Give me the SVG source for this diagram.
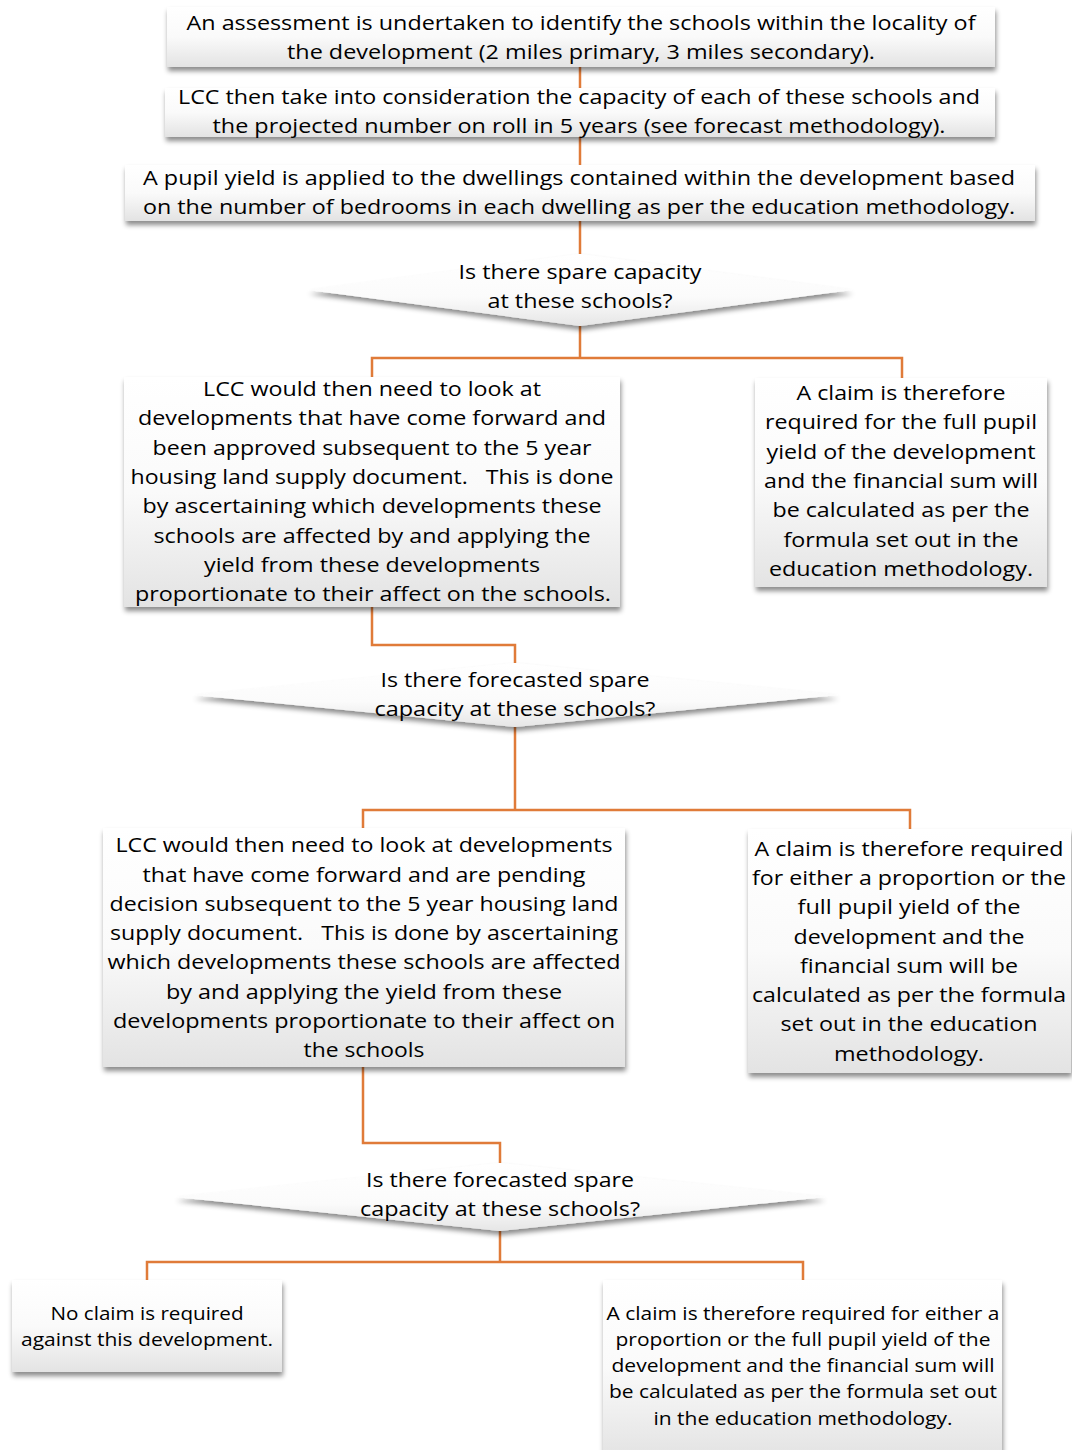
<svg xmlns="http://www.w3.org/2000/svg" width="1072" height="1450" viewBox="0 0 1072 1450">
<style>
  .conn { fill: none; stroke: #E07B39; stroke-width: 2.5; }
  .box { fill: url(#boxGrad); filter: url(#shadow); }
  .dia { fill: url(#diaGrad); filter: url(#shadow); }
  text { font-family: "Open Sans", "Noto Sans", sans-serif; font-size: 20.5px; fill: #000; text-anchor: middle; white-space: pre; }
  .sm { font-size: 18.5px; }
</style>
<defs>
  <linearGradient id="boxGrad" x1="0" y1="0" x2="0" y2="1">
    <stop offset="0" stop-color="#ffffff"/>
    <stop offset="0.5" stop-color="#fafafa"/>
    <stop offset="1" stop-color="#e3e3e3"/>
  </linearGradient>
  <linearGradient id="diaGrad" x1="0" y1="0" x2="0" y2="1">
    <stop offset="0" stop-color="#ffffff"/>
    <stop offset="0.6" stop-color="#fbfbfb"/>
    <stop offset="1" stop-color="#e6e6e6"/>
  </linearGradient>
  <filter id="shadow" x="-10%" y="-20%" width="120%" height="150%">
    <feDropShadow dx="1" dy="4" stdDeviation="2.5" flood-color="#000" flood-opacity="0.45"/>
  </filter>
</defs>
<rect width="1072" height="1450" fill="#ffffff"/>

<g id="connectors">
  <path class="conn" d="M580 67 V88"/>
  <path class="conn" d="M580 137 V165"/>
  <path class="conn" d="M580 221 V254"/>
  <path class="conn" d="M580 326 V358 M372 377 V358 H902 V378"/>
  <path class="conn" d="M372 607 V645 H515 V663"/>
  <path class="conn" d="M515 727 V810 M363 828 V810 H910 V829"/>
  <path class="conn" d="M363 1067 V1143 H500 V1163"/>
  <path class="conn" d="M500 1231 V1262 M147 1280 V1262 H803 V1280"/>
</g>

<g id="n1">
  <rect class="box" x="167" y="7" width="828" height="60"/>
  <text x="581" y="30" textLength="789" lengthAdjust="spacingAndGlyphs">An assessment is undertaken to identify the schools within the locality of</text>
  <text x="581" y="59" textLength="588" lengthAdjust="spacingAndGlyphs">the development (2 miles primary, 3 miles secondary).</text>
</g>

<g id="n2">
  <rect class="box" x="165" y="88" width="830" height="49"/>
  <text x="579" y="104" textLength="802" lengthAdjust="spacingAndGlyphs">LCC then take into consideration the capacity of each of these schools and</text>
  <text x="579" y="133" textLength="733" lengthAdjust="spacingAndGlyphs">the projected number on roll in 5 years (see forecast methodology).</text>
</g>

<g id="n3">
  <rect class="box" x="125" y="165" width="910" height="56"/>
  <text x="579" y="185" textLength="872" lengthAdjust="spacingAndGlyphs">A pupil yield is applied to the dwellings contained within the development based</text>
  <text x="579" y="214" textLength="872" lengthAdjust="spacingAndGlyphs">on the number of bedrooms in each dwelling as per the education methodology.</text>
</g>

<g id="d1">
  <polygon class="dia" points="580,254 852,290 580,326 308,290"/>
  <text x="580" y="279" textLength="243" lengthAdjust="spacingAndGlyphs">Is there spare capacity</text>
  <text x="580" y="308" textLength="185" lengthAdjust="spacingAndGlyphs">at these schools?</text>
</g>

<g id="n4">
  <rect class="box" x="124" y="377" width="496" height="230"/>
  <text x="372" y="396" textLength="338" lengthAdjust="spacingAndGlyphs">LCC would then need to look at</text>
  <text x="372" y="425" textLength="468" lengthAdjust="spacingAndGlyphs">developments that have come forward and</text>
  <text x="372" y="455" textLength="439" lengthAdjust="spacingAndGlyphs">been approved subsequent to the 5 year</text>
  <text x="372" y="484" textLength="483" lengthAdjust="spacingAndGlyphs" xml:space="preserve">housing land supply document.   This is done</text>
  <text x="372" y="513" textLength="459" lengthAdjust="spacingAndGlyphs">by ascertaining which developments these</text>
  <text x="372" y="543" textLength="437" lengthAdjust="spacingAndGlyphs">schools are affected by and applying the</text>
  <text x="372" y="572" textLength="336" lengthAdjust="spacingAndGlyphs">yield from these developments</text>
  <text x="373" y="601" textLength="476" lengthAdjust="spacingAndGlyphs">proportionate to their affect on the schools.</text>
</g>

<g id="n5">
  <rect class="box" x="755" y="378" width="292" height="209"/>
  <text x="901" y="400" textLength="209" lengthAdjust="spacingAndGlyphs">A claim is therefore</text>
  <text x="901" y="429" textLength="272" lengthAdjust="spacingAndGlyphs">required for the full pupil</text>
  <text x="901" y="459" textLength="269" lengthAdjust="spacingAndGlyphs">yield of the development</text>
  <text x="901" y="488" textLength="274" lengthAdjust="spacingAndGlyphs">and the financial sum will</text>
  <text x="901" y="517" textLength="257" lengthAdjust="spacingAndGlyphs">be calculated as per the</text>
  <text x="901" y="547" textLength="235" lengthAdjust="spacingAndGlyphs">formula set out in the</text>
  <text x="901" y="576" textLength="264" lengthAdjust="spacingAndGlyphs">education methodology.</text>
</g>

<g id="d2">
  <polygon class="dia" points="515,663 838,695 515,727 193,695"/>
  <text x="515" y="687" textLength="269" lengthAdjust="spacingAndGlyphs">Is there forecasted spare</text>
  <text x="515" y="716" textLength="281" lengthAdjust="spacingAndGlyphs">capacity at these schools?</text>
</g>

<g id="n6">
  <rect class="box" x="103" y="828" width="522" height="239"/>
  <text x="364" y="852" textLength="497" lengthAdjust="spacingAndGlyphs">LCC would then need to look at developments</text>
  <text x="364" y="882" textLength="443" lengthAdjust="spacingAndGlyphs">that have come forward and are pending</text>
  <text x="364" y="911" textLength="509" lengthAdjust="spacingAndGlyphs">decision subsequent to the 5 year housing land</text>
  <text x="364" y="940" textLength="508" lengthAdjust="spacingAndGlyphs" xml:space="preserve">supply document.   This is done by ascertaining</text>
  <text x="364" y="969" textLength="513" lengthAdjust="spacingAndGlyphs">which developments these schools are affected</text>
  <text x="364" y="999" textLength="396" lengthAdjust="spacingAndGlyphs">by and applying the yield from these</text>
  <text x="364" y="1028" textLength="502" lengthAdjust="spacingAndGlyphs">developments proportionate to their affect on</text>
  <text x="364" y="1057" textLength="121" lengthAdjust="spacingAndGlyphs">the schools</text>
</g>

<g id="n7">
  <rect class="box" x="748" y="829" width="323" height="244"/>
  <text x="909" y="856" textLength="309" lengthAdjust="spacingAndGlyphs">A claim is therefore required</text>
  <text x="909" y="885" textLength="314" lengthAdjust="spacingAndGlyphs">for either a proportion or the</text>
  <text x="909" y="914" textLength="223" lengthAdjust="spacingAndGlyphs">full pupil yield of the</text>
  <text x="909" y="944" textLength="231" lengthAdjust="spacingAndGlyphs">development and the</text>
  <text x="909" y="973" textLength="218" lengthAdjust="spacingAndGlyphs">financial sum will be</text>
  <text x="909" y="1002" textLength="314" lengthAdjust="spacingAndGlyphs">calculated as per the formula</text>
  <text x="909" y="1031" textLength="257" lengthAdjust="spacingAndGlyphs">set out in the education</text>
  <text x="909" y="1061" textLength="150" lengthAdjust="spacingAndGlyphs">methodology.</text>
</g>

<g id="d3">
  <polygon class="dia" points="500,1163 825,1197 500,1231 175,1197"/>
  <text x="500" y="1187" textLength="268" lengthAdjust="spacingAndGlyphs">Is there forecasted spare</text>
  <text x="500" y="1216" textLength="280" lengthAdjust="spacingAndGlyphs">capacity at these schools?</text>
</g>

<g id="n8">
  <rect class="box" x="12" y="1280" width="270" height="92"/>
  <text class="sm" x="147" y="1320" textLength="193" lengthAdjust="spacingAndGlyphs">No claim is required</text>
  <text class="sm" x="147" y="1346" textLength="252" lengthAdjust="spacingAndGlyphs">against this development.</text>
</g>

<g id="n9">
  <rect class="box" x="603" y="1280" width="399" height="178"/>
  <text class="sm" x="803" y="1320" textLength="393" lengthAdjust="spacingAndGlyphs">A claim is therefore required for either a</text>
  <text class="sm" x="803" y="1346" textLength="375" lengthAdjust="spacingAndGlyphs">proportion or the full pupil yield of the</text>
  <text class="sm" x="803" y="1372" textLength="383" lengthAdjust="spacingAndGlyphs">development and the financial sum will</text>
  <text class="sm" x="803" y="1398" textLength="388" lengthAdjust="spacingAndGlyphs">be calculated as per the formula set out</text>
  <text class="sm" x="803" y="1425" textLength="299" lengthAdjust="spacingAndGlyphs">in the education methodology.</text>
</g>
</svg>
